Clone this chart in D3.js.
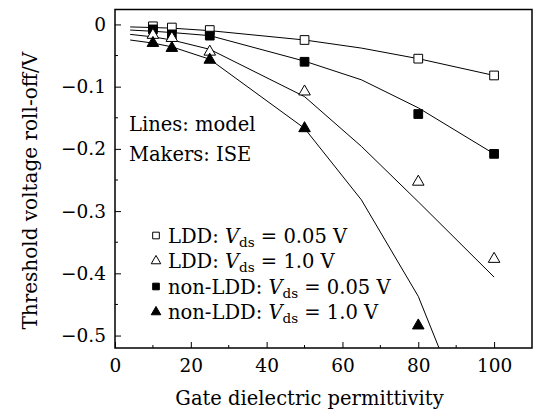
<!DOCTYPE html>
<meta charset="utf-8">
<script src="https://d3js.org/d3.v7.min.js"></script>
<style>
  body { margin: 0; background: #fff; }
</style>
<div id="chart"></div>
<script>
  // ISE simulation points (markers)
  var simX = [10, 15, 25, 50, 80, 100];
  var lddLow = [-0.003, -0.005, -0.009, -0.025, -0.055, -0.082];      // LDD, Vds = 0.05 V
  var lddHigh = [-0.017, -0.022, -0.044, -0.108, -0.253, -0.377];     // LDD, Vds = 1.0 V
  var nonLddLow = [-0.008, -0.016, -0.018, -0.060, -0.144, -0.208];   // non-LDD, Vds = 0.05 V
  var nonLddHigh = [-0.030, -0.038, -0.057, -0.167, -0.484];          // non-LDD, Vds = 1.0 V (x = 100 off chart)

  // model curves
  var modelX = [4, 10, 15, 25, 50, 65, 80, 100];
  var modelLddLow = [-0.004, -0.005, -0.006, -0.010, -0.025, -0.038, -0.055, -0.082];
  var modelNonLddLow = [-0.009, -0.011, -0.013, -0.018, -0.059, -0.089, -0.134, -0.208];
  var modelLddHigh = [-0.016, -0.020, -0.025, -0.040, -0.116, -0.196, -0.285, -0.406];
  var modelNonLddHigh = [-0.025, -0.030, -0.036, -0.056, -0.167, -0.282, -0.437, -0.740];

  var yTicks = [0, -0.1, -0.2, -0.3, -0.4, -0.5];
  var xTicks = [0, 20, 40, 60, 80, 100];

  var FONT = "DejaVu Serif";

  var W = 534, H = 412;
  var margin = {top: 9.5, right: 2, bottom: 64, left: 115};
  var width = W - margin.left - margin.right,
      height = H - margin.top - margin.bottom;

  var svg = d3.select("#chart").append("svg")
      .attr("width", W).attr("height", H)
      .attr("font-family", FONT)
    .append("g")
      .attr("transform", "translate(" + margin.left + "," + margin.top + ")");

  var x = d3.scaleLinear().domain([0, 110]).range([0, width]);
  var y = d3.scaleLinear().domain([-0.52, 0.024]).range([height, 0]);

  svg.append("clipPath").attr("id", "clip")
    .append("rect").attr("width", width).attr("height", height);

  // minor ticks
  svg.append("g").selectAll("line")
    .data(d3.range(-0.45, 0.001, 0.1))
    .enter().append("line")
      .attr("x1", 0).attr("x2", 3)
      .attr("y1", function(d) { return y(d); }).attr("y2", function(d) { return y(d); })
      .attr("stroke", "#000");
  svg.append("g").selectAll("line")
    .data(d3.range(10, 110, 20))
    .enter().append("line")
      .attr("x1", function(d) { return x(d); }).attr("x2", function(d) { return x(d); })
      .attr("y1", height).attr("y2", height - 3)
      .attr("stroke", "#000");

  // axes with inward ticks
  var yAxis = svg.append("g")
    .call(d3.axisLeft(y).tickValues(yTicks).tickSizeInner(-6).tickSizeOuter(0).tickPadding(9)
      .tickFormat(function(d) { return d === 0 ? "0" : d3.format(".1f")(d); }));
  var xAxis = svg.append("g")
    .attr("transform", "translate(0," + height + ")")
    .call(d3.axisBottom(x).tickValues(xTicks).tickSizeInner(-6).tickSizeOuter(0).tickPadding(11));
  [xAxis, yAxis].forEach(function(a) {
    a.attr("font-family", FONT);
    a.select(".domain").remove();
    a.selectAll("text").attr("font-size", 18.5);
    a.selectAll("line").attr("stroke", "#000");
  });

  // frame
  svg.append("rect")
    .attr("width", width).attr("height", height)
    .attr("fill", "none").attr("stroke", "#000").attr("stroke-width", 1.5);

  // model lines
  var line = d3.line()
    .x(function(d, i) { return x(modelX[i]); })
    .y(function(d) { return y(d); });
  var lines = svg.append("g").attr("clip-path", "url(#clip)");
  [modelLddLow, modelNonLddLow, modelLddHigh, modelNonLddHigh].forEach(function(s) {
    lines.append("path").datum(s)
      .attr("d", line)
      .attr("fill", "none").attr("stroke", "#000").attr("stroke-width", 1);
  });

  var sq = d3.symbol().type(d3.symbolSquare).size(76);
  var tri = d3.symbol().type(d3.symbolTriangle).size(58);
  var series = [
    {vals: lddLow, sym: sq, fill: "#fff"},
    {vals: nonLddLow, sym: sq, fill: "#000"},
    {vals: lddHigh, sym: tri, fill: "#fff"},
    {vals: nonLddHigh, sym: tri, fill: "#000"}
  ];
  series.forEach(function(s) {
    svg.append("g").selectAll("path")
      .data(s.vals)
      .enter().append("path")
        .attr("d", s.sym)
        .attr("transform", function(d, i) { return "translate(" + x(simX[i]) + "," + y(d) + ")"; })
        .attr("fill", s.fill).attr("stroke", "#000").attr("stroke-width", 1);
  });

  // annotations
  svg.append("text").attr("x", 14).attr("y", 121).attr("font-size", 19.5).text("Lines: model");
  svg.append("text").attr("x", 14).attr("y", 151).attr("font-size", 19.5).text("Makers: ISE");

  // legend
  var legend = [
    {label: "LDD: ", v: "0.05", sym: d3.symbol().type(d3.symbolSquare).size(44), fill: "#fff"},
    {label: "LDD: ", v: "1.0", sym: d3.symbol().type(d3.symbolTriangle).size(40), fill: "#fff"},
    {label: "non-LDD: ", v: "0.05", sym: d3.symbol().type(d3.symbolSquare).size(44), fill: "#000"},
    {label: "non-LDD: ", v: "1.0", sym: d3.symbol().type(d3.symbolTriangle).size(40), fill: "#000"}
  ];
  var lg = svg.append("g").attr("transform", "translate(41,226)");
  legend.forEach(function(d, i) {
    var row = lg.append("g").attr("transform", "translate(0," + (i * 25.5) + ")");
    row.append("path").attr("d", d.sym).attr("fill", d.fill).attr("stroke", "#000").attr("stroke-width", 1);
    var t = row.append("text").attr("x", 12).attr("y", 7).attr("font-size", 19.5);
    t.append("tspan").text(d.label);
    t.append("tspan").attr("font-style", "italic").text("V");
    t.append("tspan").attr("dy", 4).attr("font-size", 13.5).text("ds");
    t.append("tspan").attr("dy", -4).text(" = " + d.v + " V");
  });

  // axis titles
  svg.append("text")
    .attr("x", width / 2 - 14).attr("y", height + 57)
    .attr("text-anchor", "middle").attr("font-size", 19.5)
    .text("Gate dielectric permittivity");
  svg.append("text")
    .attr("transform", "translate(-78," + (height / 2 + 12) + ") rotate(-90)")
    .attr("text-anchor", "middle").attr("font-size", 20)
    .text("Threshold voltage roll-off/V");
</script>
